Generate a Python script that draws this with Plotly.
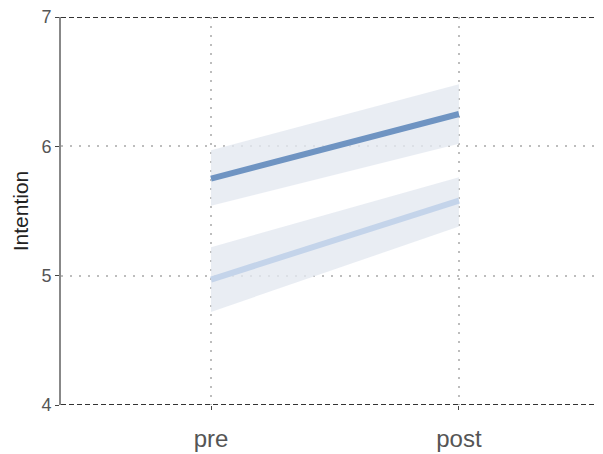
import plotly.graph_objects as go

categories = ["pre", "post"]
high_mean = [5.75, 6.25]
high_lower = [5.54, 6.02]
high_upper = [5.97, 6.48]
low_mean = [4.97, 5.58]
low_lower = [4.72, 5.38]
low_upper = [5.22, 5.76]
y_ticks = [4, 5, 6, 7]

xpos = [0, 1]
fig = go.Figure()

band_color = "rgba(228,232,240,0.8)"
for lo, hi in [(high_lower, high_upper), (low_lower, low_upper)]:
    fig.add_trace(go.Scatter(
        x=xpos + xpos[::-1], y=hi + lo[::-1], fill="toself",
        fillcolor=band_color, line=dict(width=0), mode="lines",
        hoverinfo="skip", showlegend=False))

fig.add_trace(go.Scatter(x=xpos, y=low_mean, mode="lines",
                         line=dict(color="#c4d4ea", width=6), showlegend=False))
fig.add_trace(go.Scatter(x=xpos, y=high_mean, mode="lines",
                         line=dict(color="#6f94c2", width=6), showlegend=False))

for yv in [4, 7]:
    fig.add_shape(type="line", xref="paper", x0=0, x1=1, y0=yv, y1=yv,
                  line=dict(color="#333333", width=2, dash="5px,3px"), layer="above")

# page has an ~8px default body margin, so the figure is sized to fit inside it
fig.update_layout(
    width=595, height=446,
    margin=dict(l=53, r=0, t=9, b=49),
    paper_bgcolor="white", plot_bgcolor="white",
    font=dict(family="Liberation Sans, Arial, sans-serif"),
    xaxis=dict(
        range=[-0.605, 1.581], tickvals=xpos, ticktext=categories,
        showgrid=True, gridcolor="#bdbdbd", griddash="2px,7px", gridwidth=2,
        ticks="outside", ticklen=4, tickcolor="#444", ticklabelstandoff=8,
        tickfont=dict(size=24, color="#555555"), zeroline=False,
        showline=False, automargin=False, ticklabeloverflow="allow"),
    yaxis=dict(
        range=[4, 7], tickvals=y_ticks,
        showgrid=True, gridcolor="#bdbdbd", griddash="2px,7px", gridwidth=2,
        ticks="outside", ticklen=4, tickcolor="#444",
        tickfont=dict(size=18, color="#555555"), zeroline=False,
        showline=True, linecolor="#888888", linewidth=2, automargin=False,
        ticklabeloverflow="allow",
        title=dict(text="Intention", font=dict(size=21, color="#222222"), standoff=7)),
)

fig.write_html("out.html")
